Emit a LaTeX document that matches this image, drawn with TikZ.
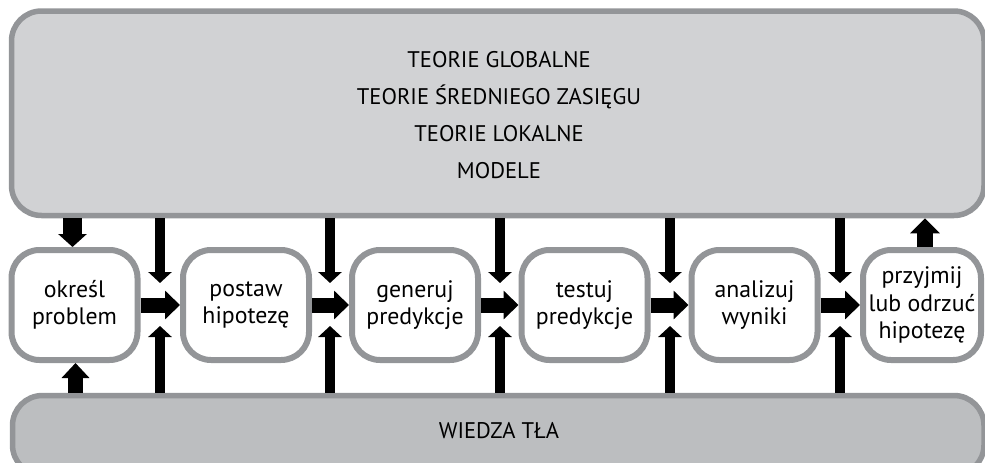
\documentclass[tikz,border=0pt]{standalone}
\usepackage{fontspec}
\setmainfont{PT Sans}
\usetikzlibrary{arrows.meta}
\definecolor{frame}{HTML}{939598}
\definecolor{upper}{HTML}{D1D2D4}
\definecolor{lower}{HTML}{BCBEC0}
\tikzset{
  panel/.style={draw=frame, line width=5.5pt, rounded corners=30pt, inner sep=0pt},
  stepbox/.style={draw=frame, fill=white, line width=6pt, rounded corners=28pt,
    minimum width=126pt, minimum height=110pt, inner sep=0pt, align=center,
    font=\fontsize{23.8}{27.5}\selectfont},
  caption/.style={align=center, inner sep=0pt, font=\fontsize{22.6}{37}\selectfont},
  flow/.style={line width=15pt, -{Triangle[length=15pt,width=28pt]}},
  feed/.style={line width=10pt, -{Triangle[length=11pt,width=23pt]}},
}
\begin{document}
\begin{tikzpicture}[x=1pt,y=-1pt]
\useasboundingbox (0,0) rectangle (985,463);
\clip (0,0) rectangle (985,463);

% theory panel and background knowledge panel
\node[panel, fill=upper, minimum width=972.5pt, minimum height=204.5pt] (theories) at (497.75,113.25) {};
\node[caption] (theorytext) at (499,115) {TEORIE GLOBALNE\\TEORIE ŚREDNIEGO ZASIĘGU\\TEORIE LOKALNE\\MODELE};
\node[panel, fill=lower, minimum width=971.5pt, minimum height=79.5pt] (knowledge) at (498.25,435.25) {};
\node[caption] (knowtext) at (499,430.5) {WIEDZA TŁA};

% the steps of the method
\node[stepbox] (s1) at (74.5,305) {określ\\problem};
\node[stepbox] (s2) at (246,305) {postaw\\hipotezę};
\node[stepbox] (s3) at (415,305) {generuj\\predykcje};
\node[stepbox] (s4) at (584.5,305) {testuj\\predykcje};
\node[stepbox] (s5) at (754.5,305) {analizuj\\wyniki};
\node[stepbox, minimum width=118pt] (s6) at (922,305) {przyjmij\\lub odrzuć\\hipotezę};

% forward arrows between the steps
\draw[flow] (s1.east) -- (s2.west);
\draw[flow] (s2.east) -- (s3.west);
\draw[flow] (s3.east) -- (s4.west);
\draw[flow] (s4.east) -- (s5.west);
\draw[flow] (s5.east) -- (s6.west);

% inputs from theories (down) and from background knowledge (up)
\foreach \i/\x in {1/160,2/330,3/500,4/670,5/840}{
  \coordinate (down\i) at (\x,283);
  \coordinate (up\i) at (\x,326);
  \draw[feed] (theories.south -| down\i) -- (down\i);
  \draw[feed] (knowledge.north -| up\i) -- (up\i);
}

% links of the first and last step
\coordinate (ain) at (72.5,0);
\coordinate (bin) at (75.5,0);
\coordinate (cout) at (925,0);
\draw[line width=19pt, -{Triangle[length=13pt,width=28pt]}] (theories.south -| ain) -- (s1.north -| ain);
\draw[line width=15pt, -{Triangle[length=15pt,width=27pt]}] (knowledge.north -| bin) -- (s1.south -| bin);
\draw[line width=16pt, -{Triangle[length=15pt,width=29pt]}] (s6.north -| cout) -- (theories.south -| cout);
\end{tikzpicture}
\end{document}
